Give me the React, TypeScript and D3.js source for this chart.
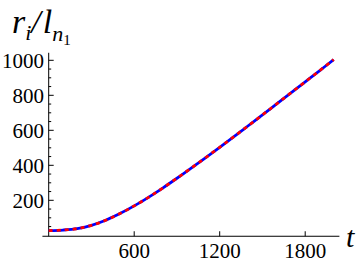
import React from "react";
import * as d3 from "d3";

const tValues = [0, 100, 200, 300, 400, 500, 600, 700, 800, 900, 1000, 1100, 1200, 1300, 1400, 1500, 1600, 1700, 1800, 1900, 2000];
const rValues = [27, 30, 38, 57, 86, 124, 168, 217, 270, 326, 384, 443, 503, 564, 626, 688, 751, 814, 877, 940, 1004];
const xTicks = [600, 1200, 1800];
const yTicks = [200, 400, 600, 800, 1000];
const yMinorTicks = d3.range(50, 1001, 50).filter((v) => v % 200 !== 0);

const W = 360;
const H = 265;
const FONT = "Liberation Serif, Times New Roman, Times, serif";

export default function App() {
  const x = d3.scaleLinear().domain([0, 600]).range([48.7, 134.2]);
  const y = d3.scaleLinear().domain([0, 1000]).range([235.3, 60.3]);
  const pts = tValues.map((t, i) => [t, rValues[i]] as [number, number]);
  const line = d3
    .line<[number, number]>()
    .x((d) => x(d[0]))
    .y((d) => y(d[1]))
    .curve(d3.curveCatmullRom);
  const path = line(pts) || "";
  const xAxisY = y(-5.5);
  const yAxisX = x(0);
  const serif = { fontFamily: FONT };
  return (
    <svg width={W} height={H} style={{ position: "absolute", left: 0, top: 0, background: "#fff" }}>
      {/* axes */}
      <line x1={x(-44)} x2={x(2040)} y1={xAxisY} y2={xAxisY} stroke="#000" strokeWidth={1} />
      <line x1={yAxisX} x2={yAxisX} y1={xAxisY} y2={y(1043)} stroke="#000" strokeWidth={1} />
      {xTicks.map((t) => (
        <g key={"xt" + t}>
          <line x1={x(t)} x2={x(t)} y1={xAxisY} y2={xAxisY - 5} stroke="#000" strokeWidth={1} />
          <text x={x(t)} y={258} textAnchor="middle" style={serif} fontSize={21} fill="#000">
            {t}
          </text>
        </g>
      ))}
      {yTicks.map((v) => (
        <g key={"yt" + v}>
          <line x1={yAxisX} x2={yAxisX + 5} y1={y(v)} y2={y(v)} stroke="#000" strokeWidth={1} />
          <text x={44} y={y(v)} dy="0.35em" textAnchor="end" style={serif} fontSize={21} fill="#000">
            {v}
          </text>
        </g>
      ))}
      {yMinorTicks.map((v) => (
        <line key={"ym" + v} x1={yAxisX} x2={yAxisX + 2.5} y1={y(v)} y2={y(v)} stroke="#000" strokeWidth={1} />
      ))}
      {/* curves */}
      <path d={path} fill="none" stroke="#0000ff" strokeWidth={2.8} />
      <path d={path} fill="none" stroke="#ff0000" strokeWidth={2.8} strokeDasharray="4,4" />
      {/* labels */}
      <text x={12} y={33} style={serif} fontStyle="italic" fontSize={34} fill="#000">
        r
        <tspan fontSize={22} dy={7}>i</tspan>
        <tspan fontSize={34} dy={-7}>/</tspan>
        <tspan fontSize={34} dx={2}>l</tspan>
        <tspan fontSize={22} dy={8}>n</tspan>
        <tspan fontSize={15} fontStyle="normal" dy={4}>1</tspan>
      </text>
      <text x={346} y={247} style={serif} fontStyle="italic" fontSize={30} fill="#000">
        t
      </text>
    </svg>
  );
}
